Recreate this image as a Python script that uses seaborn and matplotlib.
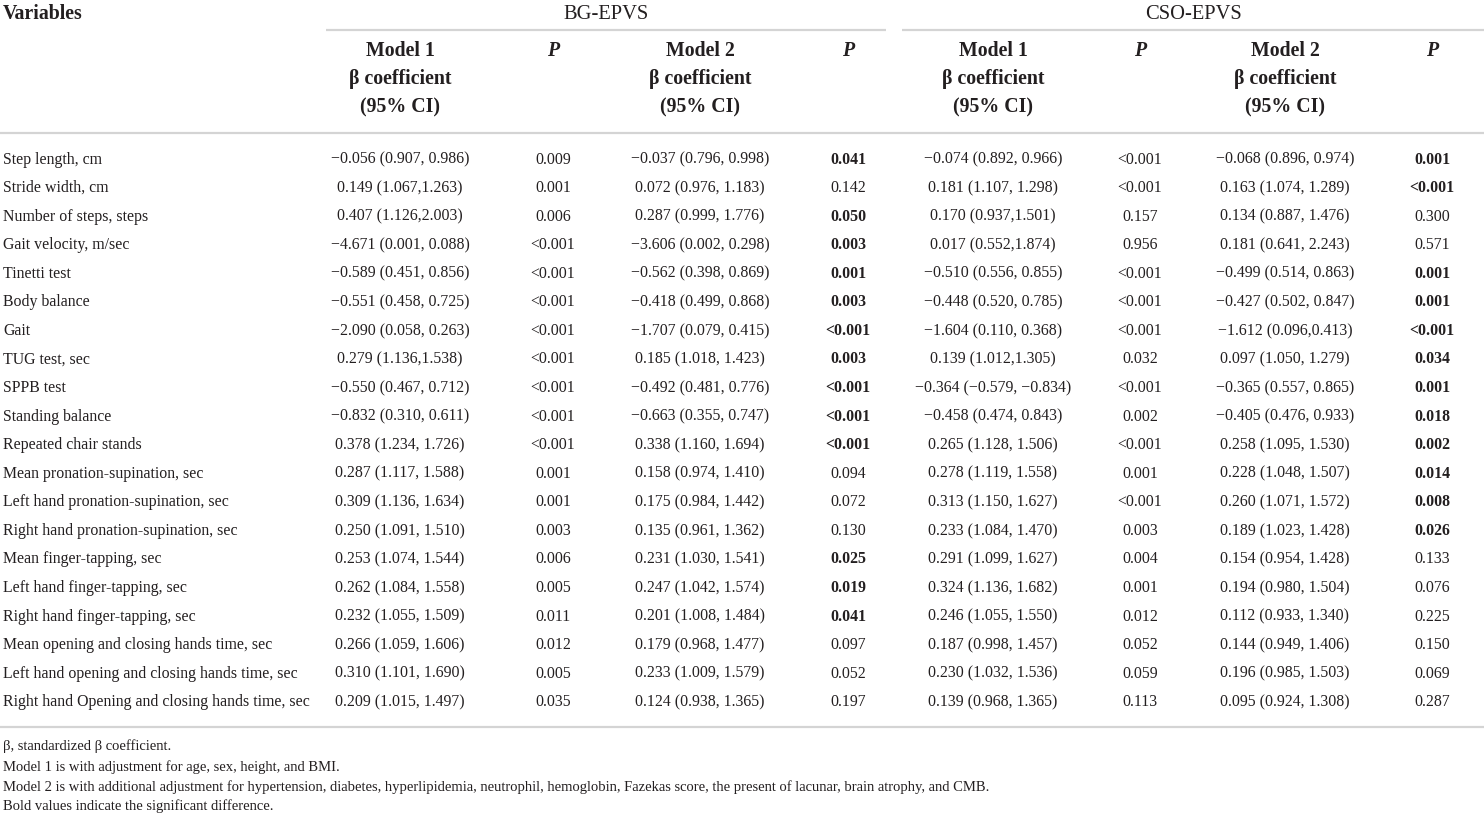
import numpy as np
import pandas as pd
import matplotlib
matplotlib.use("Agg")
import matplotlib.pyplot as plt
import seaborn as sns

# table content
variables = [
    "Step length, cm", "Stride width, cm", "Number of steps, steps", "Gait velocity, m/sec",
    "Tinetti test", "Body balance", "Gait", "TUG test, sec", "SPPB test", "Standing balance",
    "Repeated chair stands", "Mean pronation-supination, sec", "Left hand pronation-supination, sec",
    "Right hand pronation-supination, sec", "Mean finger-tapping, sec", "Left hand finger-tapping, sec",
    "Right hand finger-tapping, sec", "Mean opening and closing hands time, sec",
    "Left hand opening and closing hands time, sec", "Right hand Opening and closing hands time, sec",
]

bg_m1 = [
    "−0.056 (0.907, 0.986)", "0.149 (1.067,1.263)", "0.407 (1.126,2.003)", "−4.671 (0.001, 0.088)",
    "−0.589 (0.451, 0.856)", "−0.551 (0.458, 0.725)", "−2.090 (0.058, 0.263)", "0.279 (1.136,1.538)",
    "−0.550 (0.467, 0.712)", "−0.832 (0.310, 0.611)", "0.378 (1.234, 1.726)", "0.287 (1.117, 1.588)",
    "0.309 (1.136, 1.634)", "0.250 (1.091, 1.510)", "0.253 (1.074, 1.544)", "0.262 (1.084, 1.558)",
    "0.232 (1.055, 1.509)", "0.266 (1.059, 1.606)", "0.310 (1.101, 1.690)", "0.209 (1.015, 1.497)",
]
bg_p1 = ["0.009", "0.001", "0.006", "<0.001", "<0.001", "<0.001", "<0.001", "<0.001", "<0.001", "<0.001",
         "<0.001", "0.001", "0.001", "0.003", "0.006", "0.005", "0.011", "0.012", "0.005", "0.035"]
bg_m2 = [
    "−0.037 (0.796, 0.998)", "0.072 (0.976, 1.183)", "0.287 (0.999, 1.776)", "−3.606 (0.002, 0.298)",
    "−0.562 (0.398, 0.869)", "−0.418 (0.499, 0.868)", "−1.707 (0.079, 0.415)", "0.185 (1.018, 1.423)",
    "−0.492 (0.481, 0.776)", "−0.663 (0.355, 0.747)", "0.338 (1.160, 1.694)", "0.158 (0.974, 1.410)",
    "0.175 (0.984, 1.442)", "0.135 (0.961, 1.362)", "0.231 (1.030, 1.541)", "0.247 (1.042, 1.574)",
    "0.201 (1.008, 1.484)", "0.179 (0.968, 1.477)", "0.233 (1.009, 1.579)", "0.124 (0.938, 1.365)",
]
bg_p2 = ["0.041", "0.142", "0.050", "0.003", "0.001", "0.003", "<0.001", "0.003", "<0.001", "<0.001",
         "<0.001", "0.094", "0.072", "0.130", "0.025", "0.019", "0.041", "0.097", "0.052", "0.197"]

cso_m1 = [
    "−0.074 (0.892, 0.966)", "0.181 (1.107, 1.298)", "0.170 (0.937,1.501)", "0.017 (0.552,1.874)",
    "−0.510 (0.556, 0.855)", "−0.448 (0.520, 0.785)", "−1.604 (0.110, 0.368)", "0.139 (1.012,1.305)",
    "−0.364 (−0.579, −0.834)", "−0.458 (0.474, 0.843)", "0.265 (1.128, 1.506)", "0.278 (1.119, 1.558)",
    "0.313 (1.150, 1.627)", "0.233 (1.084, 1.470)", "0.291 (1.099, 1.627)", "0.324 (1.136, 1.682)",
    "0.246 (1.055, 1.550)", "0.187 (0.998, 1.457)", "0.230 (1.032, 1.536)", "0.139 (0.968, 1.365)",
]
cso_p1 = ["<0.001", "<0.001", "0.157", "0.956", "<0.001", "<0.001", "<0.001", "0.032", "<0.001", "0.002",
          "<0.001", "0.001", "<0.001", "0.003", "0.004", "0.001", "0.012", "0.052", "0.059", "0.113"]
cso_m2 = [
    "−0.068 (0.896, 0.974)", "0.163 (1.074, 1.289)", "0.134 (0.887, 1.476)", "0.181 (0.641, 2.243)",
    "−0.499 (0.514, 0.863)", "−0.427 (0.502, 0.847)", "−1.612 (0.096,0.413)", "0.097 (1.050, 1.279)",
    "−0.365 (0.557, 0.865)", "−0.405 (0.476, 0.933)", "0.258 (1.095, 1.530)", "0.228 (1.048, 1.507)",
    "0.260 (1.071, 1.572)", "0.189 (1.023, 1.428)", "0.154 (0.954, 1.428)", "0.194 (0.980, 1.504)",
    "0.112 (0.933, 1.340)", "0.144 (0.949, 1.406)", "0.196 (0.985, 1.503)", "0.095 (0.924, 1.308)",
]
cso_p2 = ["0.001", "<0.001", "0.300", "0.571", "0.001", "0.001", "<0.001", "0.034", "0.001", "0.018",
          "0.002", "0.014", "0.008", "0.026", "0.133", "0.076", "0.225", "0.150", "0.069", "0.287"]

footnotes = [
    "β, standardized β coefficient.",
    "Model 1 is with adjustment for age, sex, height, and BMI.",
    "Model 2 is with additional adjustment for hypertension, diabetes, hyperlipidemia, neutrophil, "
    "hemoglobin, Fazekas score, the present of lacunar, brain atrophy, and CMB.",
    "Bold values indicate the significant difference.",
]

df = pd.DataFrame({"Variables": variables, "bg_m1": bg_m1, "bg_p1": bg_p1, "bg_m2": bg_m2,
                   "bg_p2": bg_p2, "cso_m1": cso_m1, "cso_p1": cso_p1, "cso_m2": cso_m2,
                   "cso_p2": cso_p2})


def significant(p):
    return p.startswith("<") or float(p) <= 0.05


sns.set_theme(style="white")
plt.rcParams["font.family"] = ["Liberation Serif", "DejaVu Serif"]
ink = "#231f20"
rule = "#d4d4d4"

fig = plt.figure(figsize=(14.84, 8.17), dpi=100)
ax = fig.add_axes([0, 0, 1, 1])
ax.set_xlim(0, 1484)
ax.set_ylim(817, 0)
ax.axis("off")

# header (baseline positions)
hs = 14.3
ax.text(3, 19, "Variables", fontsize=hs, fontweight="bold", va="baseline", color=ink)
ax.text(606, 19, "BG-EPVS", fontsize=14.8, va="baseline", ha="center", color=ink)
ax.text(1194, 19, "CSO-EPVS", fontsize=14.8, va="baseline", ha="center", color=ink)
ax.plot([326, 886], [30, 30], color=rule, lw=1.6, solid_capstyle="butt")
ax.plot([902, 1484], [30, 30], color=rule, lw=1.6, solid_capstyle="butt")

cols = ["bg_m1", "bg_p1", "bg_m2", "bg_p2", "cso_m1", "cso_p1", "cso_m2", "cso_p2"]
xc = [400, 553, 700, 848, 993, 1140, 1285, 1432]
for c, x in zip(cols, xc):
    if "_p" in c:
        ax.text(x, 56, "P", fontsize=hs, fontweight="bold", fontstyle="italic",
                ha="center", va="baseline", color=ink)
    else:
        label = "Model 1" if c.endswith("1") else "Model 2"
        for y, t in zip([56, 84, 112], [label, "β coefficient", "(95% CI)"]):
            ax.text(x, y, t, fontsize=hs, fontweight="bold", ha="center", va="baseline", color=ink)

ax.plot([0, 1484], [133, 133], color=rule, lw=1.6, solid_capstyle="butt")

# body
bs = 11.4
row_y = 163.5 + np.arange(len(df)) * 28.57
for y, (_, r) in zip(row_y, df.iterrows()):
    ax.text(3, y, r["Variables"], fontsize=bs, va="baseline", color=ink)
    for c, x in zip(cols, xc):
        bold = c.endswith("p2") and significant(r[c])
        ax.text(x, y, r[c], fontsize=bs, ha="center", va="baseline", color=ink,
                fontweight="bold" if bold else "normal")

ax.plot([0, 1484], [727, 727], color=rule, lw=1.6, solid_capstyle="butt")

for y, t in zip([750, 771, 791, 810], footnotes):
    ax.text(3, y, t, fontsize=10.5, va="baseline", color=ink)

fig.savefig("out.png", dpi=100)
